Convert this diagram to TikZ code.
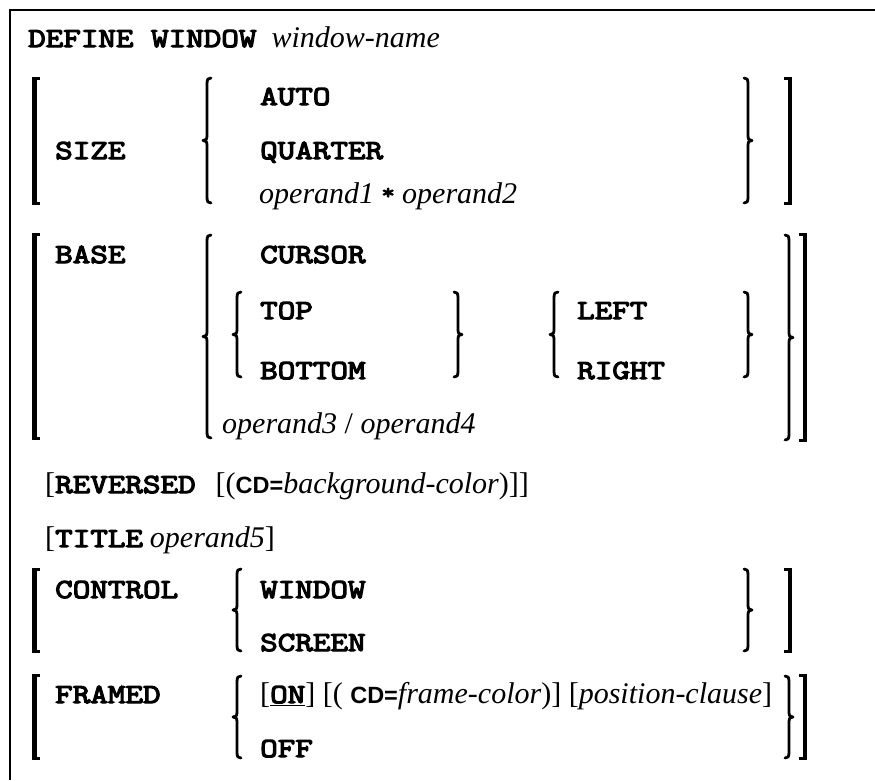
\documentclass[tikz,border=0pt]{standalone}
\usepackage{fontspec}
\setmainfont{Liberation Serif}
\newfontfamily\monof{Latin Modern Mono}[FakeBold=4.5,FakeStretch=1.24]
\newfontfamily\sansf{Liberation Sans}
\newcommand\kw[1]{{\fontsize{27.5}{30}\monof #1}}
\newcommand\cdw[1]{{\fontsize{23.5}{24}\sansf\bfseries #1}}
\newcommand\opw[1]{\textit{#1}}
% left brace: stem x, top y, bottom y (pixels, y downwards)
\newcommand\LBr[3]{%
  \pgfmathsetmacro\ymid{(#2+#3)/2}%
  \draw[brc] (#1+4,-#2) .. controls (#1+1,-#2) and (#1,-#2-1) .. (#1,-#2-6)
    -- (#1,-\ymid+5) .. controls (#1,-\ymid+1) and (#1-1,-\ymid) .. (#1-4,-\ymid)
    .. controls (#1-1,-\ymid) and (#1,-\ymid-1) .. (#1,-\ymid-5)
    -- (#1,-#3+6) .. controls (#1,-#3+1) and (#1+1,-#3) .. (#1+4,-#3);}
\newcommand\RBr[3]{%
  \pgfmathsetmacro\ymid{(#2+#3)/2}%
  \draw[brc] (#1-4,-#2) .. controls (#1-1,-#2) and (#1,-#2-1) .. (#1,-#2-6)
    -- (#1,-\ymid+5) .. controls (#1,-\ymid+1) and (#1+1,-\ymid) .. (#1+4,-\ymid)
    .. controls (#1+1,-\ymid) and (#1,-\ymid-1) .. (#1,-\ymid-5)
    -- (#1,-#3+6) .. controls (#1,-#3+1) and (#1-1,-#3) .. (#1-4,-#3);}
% square brackets: stem left x, top y, bottom y
\newcommand\LSq[3]{%
  \fill (#1,-#2) rectangle (#1+4.5,-#3);
  \fill (#1,-#2) rectangle (#1+8,-#2-3);
  \fill (#1,-#3) rectangle (#1+8,-#3+3);}
\newcommand\RSq[3]{%
  \fill (#1,-#2) rectangle (#1-4.5,-#3);
  \fill (#1,-#2) rectangle (#1-8,-#2-3);
  \fill (#1,-#3) rectangle (#1-8,-#3+3);}
\begin{document}
\begin{tikzpicture}[x=1pt,y=1pt,
  txt/.style={anchor=base west, inner sep=0pt, font=\fontsize{30}{32}\selectfont},
  brc/.style={line width=2.8pt, line cap=round, line join=round},
  frame/.style={line width=2pt}]
\useasboundingbox (0,0) rectangle (875,-780);
\fill[white] (0,0) rectangle (875,-780);
\draw[frame] (10,-780) -- (10,-10) -- (875,-10);

% DEFINE WINDOW
\node[txt] (def) at (28,-47) {\kw{DEFINE WINDOW}\hspace{15pt}\opw{window-name}};

% SIZE block
\LSq{32}{77}{205}
\node[txt] (size) at (55,-159) {\kw{SIZE}};
\LBr{207}{78}{203}
\node[txt] (auto) at (260,-105) {\kw{AUTO}};
\node[txt] (quarter) at (260,-159) {\kw{QUARTER}};
\node[txt] (op12) at (259,-203) {\opw{operand1}\hspace{9pt}\raisebox{4pt}{\makebox[10pt]{{\fontsize{21}{22}\monof *}}}\hspace{9pt}\opw{operand2}};
\RBr{748}{78}{203}
\RSq{792}{77}{205}

% BASE block
\LSq{32}{233}{440}
\node[txt] (base) at (55,-263) {\kw{BASE}};
\LBr{207}{235}{438}
\node[txt] (cursor) at (260,-263) {\kw{CURSOR}};
\LBr{237}{292}{377}
\node[txt] (top) at (260,-319) {\kw{TOP}};
\node[txt] (bottom) at (260,-379) {\kw{BOTTOM}};
\RBr{458}{292}{377}
\LBr{554}{292}{377}
\node[txt] (left) at (577,-319) {\kw{LEFT}};
\node[txt] (right) at (577,-379) {\kw{RIGHT}};
\RBr{748}{292}{377}
\node[txt] (op34) at (222,-433) {\opw{operand3} / \opw{operand4}};
\RBr{789}{235}{440}
\RSq{807}{233}{442}

% REVERSED / TITLE
\node[txt] (rev) at (45,-493) {[\kw{REVERSED}\hspace{20pt}[(\cdw{CD=}\opw{background-color})]]};
\node[txt] (title) at (45,-547) {[\kw{TITLE}\hspace{7pt}\opw{operand5}]};

% CONTROL block
\LSq{32}{568}{653}
\node[txt] (control) at (55,-598) {\kw{CONTROL}};
\LBr{237}{569}{651}
\node[txt] (window) at (260,-598) {\kw{WINDOW}};
\node[txt] (screen) at (260,-651) {\kw{SCREEN}};
\RBr{748}{569}{651}
\RSq{792}{568}{653}

% FRAMED block
\LSq{32}{674}{760}
\node[txt] (framed) at (55,-703) {\kw{FRAMED}};
\LBr{237}{676}{758}
\node[txt] (on) at (260,-703) {[\underline{\kw{ON}}] [( \cdw{CD=}\opw{frame-color})] [\opw{position-clause}]};
\node[txt] (off) at (260,-757) {\kw{OFF}};
\RBr{789}{676}{758}
\RSq{807}{674}{760}
\end{tikzpicture}
\end{document}
